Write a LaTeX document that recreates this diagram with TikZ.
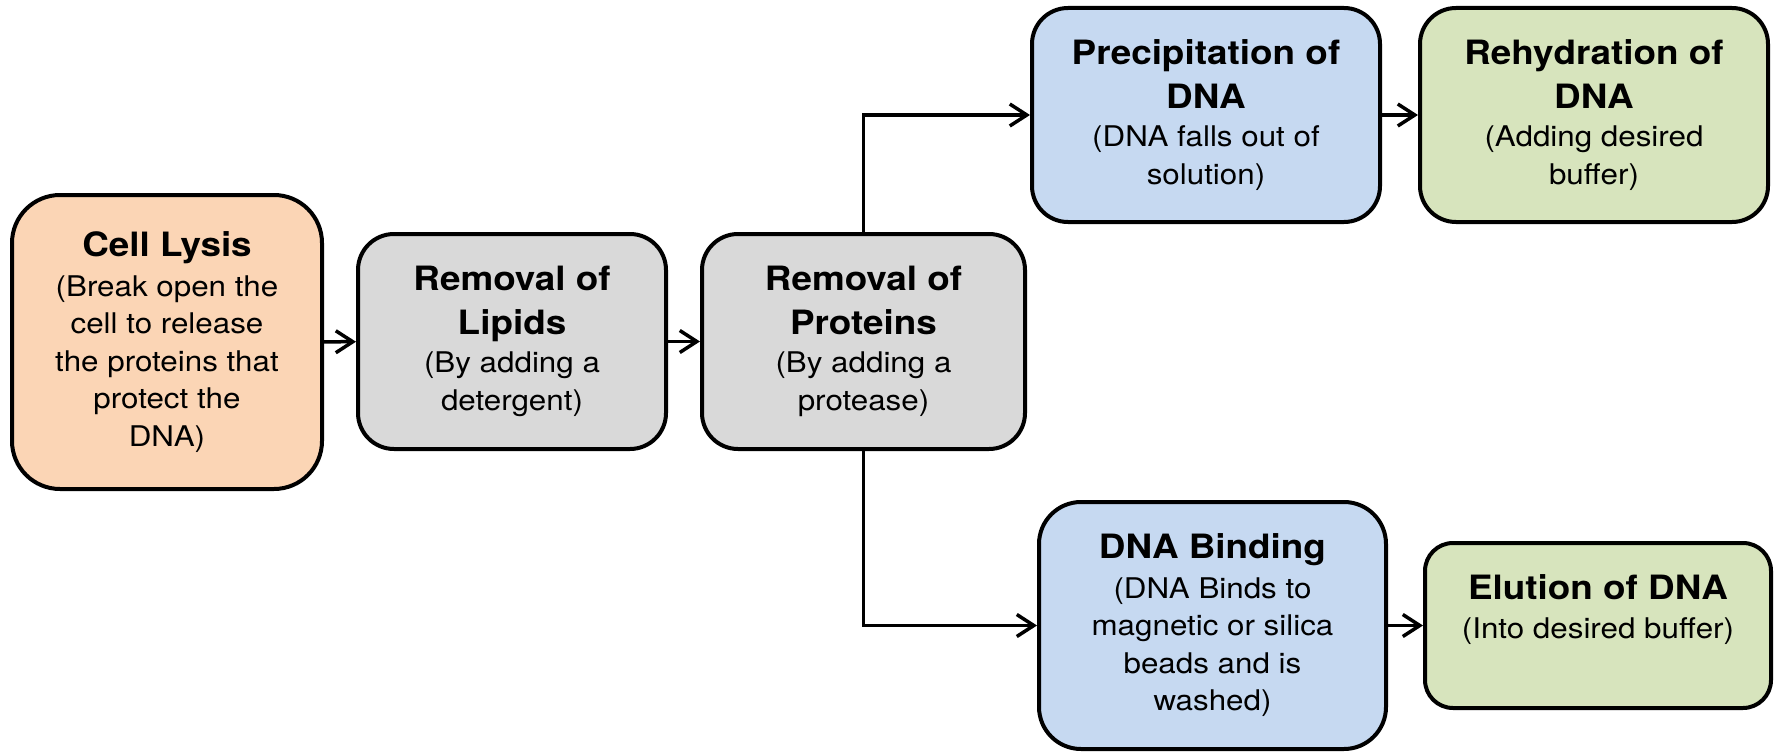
\documentclass[tikz,border=0pt]{standalone}
\usepackage{fontspec}
\setmainfont{TeX Gyre Heros}[FakeStretch=1.1]
\usetikzlibrary{arrows.meta}
\definecolor{peachf}{HTML}{FBD5B5}
\definecolor{grayf}{HTML}{D9D9D9}
\definecolor{bluef}{HTML}{C6D9F1}
\definecolor{greenf}{HTML}{D7E4BD}
\newcommand{\ttl}[1]{{\fontsize{33.5}{44}\selectfont\bfseries #1}}
\tikzset{
  box/.style={draw=black, line width=4pt, align=center, inner sep=0pt,
    font=\fontsize{28.5}{37.5}\selectfont},
  conn/.style={line width=3.5pt, -{Straight Barb[length=17pt,width=22pt]}},
}
\begin{document}
\begin{tikzpicture}[x=1pt, y=-1pt]
\useasboundingbox (0,0) rectangle (1775,752);
\node[box, fill=peachf, minimum width=310pt, minimum height=294pt, rounded corners=48pt] (cell) at (167,342)
  {\ttl{Cell Lysis}\\[2pt](Break open the\\cell to release\\the proteins that\\protect the\\DNA)};
\node[box, fill=grayf, minimum width=308pt, minimum height=215pt, rounded corners=36pt] (lip) at (512,341.5)
  {\ttl{Removal of}\\[6pt]\ttl{Lipids}\\[1pt](By adding a\\detergent)};
\node[box, fill=grayf, minimum width=323pt, minimum height=215pt, rounded corners=36pt] (prot) at (863.5,341.5)
  {\ttl{Removal of}\\[6pt]\ttl{Proteins}\\[1pt](By adding a\\protease)};
\node[box, fill=bluef, minimum width=348pt, minimum height=214pt, rounded corners=36pt] (prec) at (1206,115)
  {\ttl{Precipitation of}\\[6pt]\ttl{DNA}\\[1pt](DNA falls out of\\solution)};
\node[box, fill=greenf, minimum width=348pt, minimum height=214pt, rounded corners=36pt] (rehy) at (1594,115)
  {\ttl{Rehydration of}\\[6pt]\ttl{DNA}\\[1pt](Adding desired\\buffer)};
\node[box, fill=bluef, minimum width=347pt, minimum height=247pt, rounded corners=42pt] (bind) at (1212.5,625.5)
  {\ttl{DNA Binding}\\[2pt](DNA Binds to\\magnetic or silica\\beads and is\\washed)};
\node[box, fill=greenf, minimum width=346pt, minimum height=165pt, rounded corners=28pt] (elu) at (1598,625.5)
  {\ttl{Elution of DNA}\\[2pt](Into desired buffer)\\[0pt]\mbox{}};
\draw[conn] (cell) -- (lip);
\draw[conn] (lip) -- (prot);
\draw[conn] (prot.north) |- (prec.west);
\draw[conn] (prot.south) |- (bind.west);
\draw[conn] (prec) -- (rehy);
\draw[conn] (bind) -- (elu);
\end{tikzpicture}
\end{document}
